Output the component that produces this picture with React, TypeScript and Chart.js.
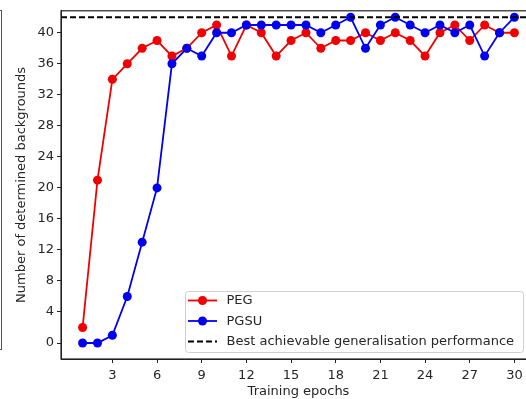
import React, { useEffect, useRef } from "react";
import { Chart, registerables } from "chart.js";

Chart.register(...registerables);

const epochs = [1, 2, 3, 4, 5, 6, 7, 8, 9, 10, 11, 12, 13, 14, 15, 16, 17, 18, 19, 20, 21, 22, 23, 24, 25, 26, 27, 28, 29, 30];
const pegValues = [2, 21, 34, 36, 38, 39, 37, 38, 40, 41, 37, 41, 40, 37, 39, 40, 38, 39, 39, 40, 39, 40, 39, 37, 40, 41, 39, 41, 40, 40];
const pgsuValues = [0, 0, 1, 6, 13, 20, 36, 38, 37, 40, 40, 41, 41, 41, 41, 41, 40, 41, 42, 38, 41, 42, 41, 40, 41, 40, 41, 37, 40, 42];
const bestValue = 42;
const xTicks = [3, 6, 9, 12, 15, 18, 21, 24, 27, 30];
const yTicks = [0, 4, 8, 12, 16, 20, 24, 28, 32, 36, 40];
const seriesLabels = ["PEG", "PGSU", "Best achievable generalisation performance"];

const RED = "#f00000";
const BLUE = "#0000f0";
const TEXT = "#262626";
const FONT = "'DejaVu Sans', sans-serif";
const FS = 13;

const framePlugin = {
  id: "frame",
  afterDatasetsDraw(chart: any) {
    const { ctx, chartArea, scales } = chart;
    const y = scales.y.getPixelForValue(bestValue);
    ctx.save();
    ctx.beginPath();
    ctx.rect(chartArea.left, chartArea.top, chartArea.right - chartArea.left, chartArea.bottom - chartArea.top);
    ctx.clip();
    ctx.strokeStyle = "#000";
    ctx.lineWidth = 2;
    ctx.setLineDash([6, 3]);
    ctx.beginPath();
    ctx.moveTo(chartArea.left, y);
    ctx.lineTo(chartArea.right, y);
    ctx.stroke();
    ctx.restore();

    ctx.save();
    ctx.strokeStyle = "#222";
    ctx.lineWidth = 1.2;
    ctx.strokeRect(chartArea.left, chartArea.top, chartArea.right - chartArea.left, chartArea.bottom - chartArea.top);
    ctx.restore();
  },
  afterDraw(chart: any) {
    const { ctx, chartArea } = chart;
    const boxRight = chartArea.right - 13;
    const boxBottom = chartArea.bottom - 7;
    const boxW = 338;
    const boxH = 61;
    const bx = boxRight - boxW;
    const by = boxBottom - boxH;
    ctx.save();
    ctx.fillStyle = "rgba(255,255,255,0.85)";
    ctx.strokeStyle = "#d0d0d0";
    ctx.lineWidth = 1;
    ctx.beginPath();
    (ctx as any).roundRect(bx + 0.5, by + 0.5, boxW, boxH, 3);
    ctx.fill();
    ctx.stroke();

    const colors = [RED, BLUE, "#000"];
    ctx.font = `${FS}px ${FONT}`;
    ctx.textBaseline = "middle";
    ctx.textAlign = "left";
    for (let i = 0; i < 3; i++) {
      const rowY = by + 9.5 + i * 20.5;
      const hx0 = bx + 3;
      const hx1 = bx + 32;
      ctx.strokeStyle = colors[i];
      ctx.lineWidth = i === 2 ? 2 : 1.8;
      ctx.setLineDash(i === 2 ? [6, 3] : []);
      ctx.beginPath();
      ctx.moveTo(hx0, rowY);
      ctx.lineTo(hx1, rowY);
      ctx.stroke();
      ctx.setLineDash([]);
      if (i < 2) {
        ctx.fillStyle = colors[i];
        ctx.beginPath();
        ctx.arc((hx0 + hx1) / 2, rowY, 4.5, 0, Math.PI * 2);
        ctx.fill();
      }
      ctx.fillStyle = TEXT;
      ctx.fillText(seriesLabels[i], bx + 41.5, rowY + 0.5);
    }
    ctx.restore();
  },
};

export default function App() {
  const ref = useRef<HTMLCanvasElement | null>(null);

  useEffect(() => {
    const canvas = ref.current;
    if (!canvas) return;
    const chart = new Chart(canvas, {
      type: "line",
      data: {
        datasets: [
          {
            label: seriesLabels[0],
            data: epochs.map((e, i) => ({ x: e, y: pegValues[i] })),
            borderColor: RED,
            backgroundColor: RED,
            borderWidth: 1.8,
            pointRadius: 4.5,
            pointBorderWidth: 0,
            pointBackgroundColor: RED,
            tension: 0,
            order: 2,
          },
          {
            label: seriesLabels[1],
            data: epochs.map((e, i) => ({ x: e, y: pgsuValues[i] })),
            borderColor: BLUE,
            backgroundColor: BLUE,
            borderWidth: 1.8,
            pointRadius: 4.5,
            pointBorderWidth: 0,
            pointBackgroundColor: BLUE,
            tension: 0,
            order: 1,
          },
        ],
      },
      options: {
        animation: false,
        responsive: false,
        devicePixelRatio: 1,
        layout: { padding: { top: 10, right: 24, left: 0, bottom: 0 } },
        plugins: { legend: { display: false }, tooltip: { enabled: false } },
        scales: {
          x: {
            type: "linear",
            min: -0.45,
            max: 31.45,
            afterBuildTicks: (scale: any) => {
              scale.ticks = xTicks.map((v) => ({ value: v }));
            },
            afterFit: (scale: any) => {
              scale.height = 40;
            },
            grid: { display: true, drawOnChartArea: false, drawTicks: true, tickLength: 4, tickColor: "#222", tickWidth: 1 },
            border: { display: true, color: "#222", width: 1 },
            ticks: { color: TEXT, font: { family: FONT, size: FS }, padding: 5, maxRotation: 0, autoSkip: false },
            title: { display: true, text: "Training epochs", color: TEXT, font: { family: FONT, size: FS }, padding: { top: 0, bottom: 0 } },
          },
          y: {
            type: "linear",
            min: -2.06,
            max: 42.83,
            afterBuildTicks: (scale: any) => {
              scale.ticks = yTicks.map((v) => ({ value: v }));
            },
            afterFit: (scale: any) => {
              scale.width = 61;
            },
            grid: { display: true, drawOnChartArea: false, drawTicks: true, tickLength: 4, tickColor: "#222", tickWidth: 1 },
            border: { display: true, color: "#222", width: 1 },
            ticks: { color: TEXT, font: { family: FONT, size: FS }, padding: 3, autoSkip: false },
            title: { display: true, text: "Number of determined backgrounds", color: TEXT, font: { family: FONT, size: FS }, padding: { top: 14, bottom: 0 } },
          },
        },
      },
      plugins: [framePlugin],
    });
    return () => chart.destroy();
  }, []);

  return (
    <div style={{ position: "fixed", left: 0, top: 0, width: 526, height: 399, overflow: "hidden", background: "#fff" }}>
      <div
        style={{
          position: "absolute",
          left: -4,
          top: 10,
          width: 5,
          height: 338,
          borderTop: "1px solid #555",
          borderBottom: "1px solid #555",
          borderRight: "1px solid #555",
        }}
      />
      <canvas ref={ref} width={560} height={399} style={{ position: "absolute", left: 0, top: 0, width: 560, height: 399 }} />
    </div>
  );
}
